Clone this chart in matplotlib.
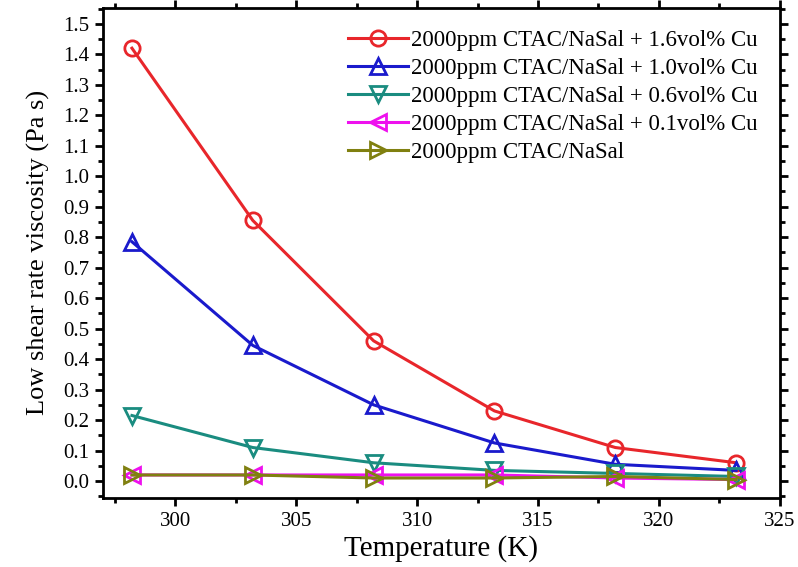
import matplotlib
matplotlib.use('Agg')
import matplotlib.pyplot as plt
from matplotlib.ticker import MultipleLocator

# Data
temperature = [298.2, 303.2, 308.2, 313.2, 318.2, 323.2]
cu_16 = [1.42, 0.855, 0.46, 0.23, 0.11, 0.06]
cu_10 = [0.785, 0.445, 0.25, 0.125, 0.055, 0.035]
cu_06 = [0.215, 0.11, 0.06, 0.035, 0.025, 0.015]
cu_01 = [0.02, 0.02, 0.02, 0.02, 0.01, 0.005]
base = [0.02, 0.02, 0.01, 0.01, 0.015, 0.005]

labels = ['2000ppm CTAC/NaSal + 1.6vol% Cu',
          '2000ppm CTAC/NaSal + 1.0vol% Cu',
          '2000ppm CTAC/NaSal + 0.6vol% Cu',
          '2000ppm CTAC/NaSal + 0.1vol% Cu',
          '2000ppm CTAC/NaSal']

plt.rcParams['font.family'] = ['Liberation Serif', 'DejaVu Serif']

fig = plt.figure(figsize=(7.98, 5.67), dpi=100)
ax = fig.add_axes([0.129, 0.122, 0.848, 0.864])

series = [cu_16, cu_10, cu_06, cu_01, base]
colors = ['#e8262b', '#1a1acc', '#1a8c80', '#ee11ee', '#808010']
markers = ['o', '^', 'v', '<', '>']
for y, c, m, lab in zip(series, colors, markers, labels):
    ax.plot(temperature, y, color=c, marker=m, markersize=11, markerfacecolor='none',
            markeredgewidth=2, linewidth=2.2, label=lab)

ax.set_xlim(297, 325)
ax.set_ylim(-0.055, 1.552)
ax.xaxis.set_major_locator(MultipleLocator(5))
ax.xaxis.set_minor_locator(MultipleLocator(2.5))
ax.yaxis.set_major_locator(MultipleLocator(0.1))
ax.yaxis.set_minor_locator(MultipleLocator(0.05))
ax.yaxis.set_major_formatter(plt.FuncFormatter(lambda v, p: '%.1f' % v))

ax.tick_params(which='both', direction='out', top=True, right=True, width=2,
               labelsize=15)
ax.tick_params(which='major', length=6, pad=4)
ax.tick_params(which='minor', length=3.5)
for s in ax.spines.values():
    s.set_linewidth(2)

ax.set_xlabel('Temperature (K)', fontsize=21, labelpad=3)
ax.set_ylabel('Low shear rate viscosity (Pa s)', fontsize=19, labelpad=9)

ax.legend(loc='upper right', bbox_to_anchor=(0.968, 0.955), frameon=False,
          fontsize=16.5, handlelength=2.6, handletextpad=0.15, labelspacing=0.3,
          borderaxespad=0, borderpad=0)

plt.savefig('out.png', dpi=100)
